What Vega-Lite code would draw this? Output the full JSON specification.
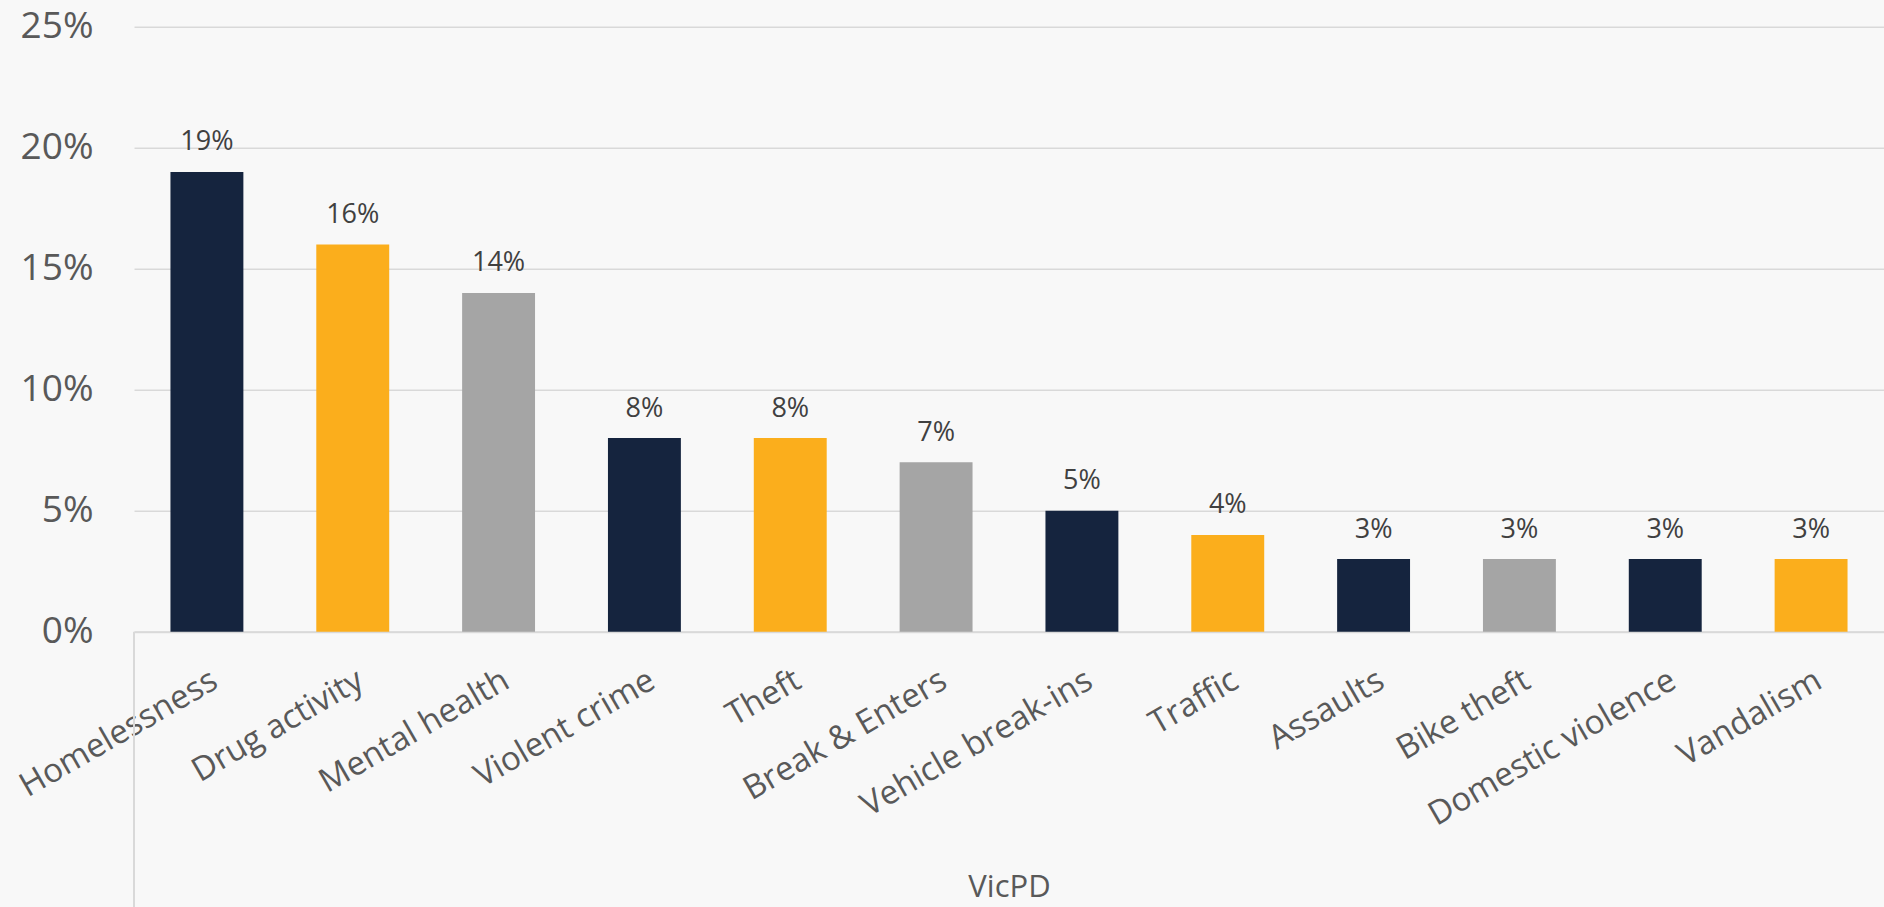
{
  "$schema": "https://vega.github.io/schema/vega-lite/v6.json",
  "autosize": {"type": "none"},
  "width": 1750,
  "height": 605,
  "padding": {"left": 134, "top": 26.7, "right": 0, "bottom": 275.3},
  "background": "#f8f8f8",
  "config": {
    "view": {"stroke": null},
    "font": "Open Sans"
  },
  "data": {
    "values": [
      {"category": "Homelessness", "value": 0.19},
      {"category": "Drug activity", "value": 0.16},
      {"category": "Mental health", "value": 0.14},
      {"category": "Violent crime", "value": 0.08},
      {"category": "Theft", "value": 0.08},
      {"category": "Break & Enters", "value": 0.07},
      {"category": "Vehicle break-ins", "value": 0.05},
      {"category": "Traffic", "value": 0.04},
      {"category": "Assaults", "value": 0.03},
      {"category": "Bike theft", "value": 0.03},
      {"category": "Domestic violence", "value": 0.03},
      {"category": "Vandalism", "value": 0.03}
    ]
  },
  "layer": [
    {
      "layer": [
        {
          "mark": {"type": "bar"},
          "encoding": {
            "x": {
              "field": "category",
              "type": "nominal",
              "sort": null,
              "scale": {"paddingInner": 0.5, "paddingOuter": 0.25},
              "axis": {
                "title": "VicPD",
                "titleFontSize": 31,
                "titleFontWeight": "normal",
                "titleColor": "#595959",
                "titleY": 265,
                "titleBaseline": "alphabetic",
                "domain": true,
                "domainColor": "#d9d9d9",
                "domainWidth": 2,
                "ticks": false,
                "labelAngle": -30,
                "labelAlign": "right",
                "labelBaseline": "top",
                "labelFontSize": 33,
                "labelColor": "#595959",
                "labelPadding": 32,
                "labelLimit": 0,
                "labelOverlap": false
              }
            },
            "y": {
              "field": "value",
              "type": "quantitative",
              "scale": {"domain": [0, 0.25], "nice": false},
              "axis": {
                "title": null,
                "values": [0, 0.05, 0.1, 0.15, 0.2, 0.25],
                "format": ".0%",
                "domain": false,
                "ticks": false,
                "grid": true,
                "gridColor": "#d9d9d9",
                "gridWidth": 1.5,
                "labelFontSize": 37,
                "labelColor": "#595959",
                "labelPadding": 41
              }
            },
            "color": {
              "field": "category",
              "type": "nominal",
              "legend": null,
              "scale": {
                "domain": ["Homelessness", "Drug activity", "Mental health", "Violent crime", "Theft", "Break & Enters", "Vehicle break-ins", "Traffic", "Assaults", "Bike theft", "Domestic violence", "Vandalism"],
                "range": ["#15243e", "#fbae1c", "#a5a5a5", "#15243e", "#fbae1c", "#a5a5a5", "#15243e", "#fbae1c", "#15243e", "#a5a5a5", "#15243e", "#fbae1c"]
              }
            }
          }
        },
        {
          "mark": {"type": "text", "dy": -21.6, "baseline": "alphabetic", "fontSize": 27, "color": "#404040"},
          "encoding": {
            "x": {"field": "category", "type": "nominal", "sort": null},
            "y": {"field": "value", "type": "quantitative"},
            "text": {"field": "value", "type": "quantitative", "format": ".0%"}
          }
        }
      ]
    },
    {
      "data": {"values": [{"start": 0, "low": 0, "bottom": -0.114}]},
      "mark": {"type": "rule", "color": "#d9d9d9", "strokeWidth": 2},
      "encoding": {
        "x": {"field": "start", "type": "quantitative", "scale": {"domain": [0, 1]}, "axis": null},
        "y": {"field": "low", "type": "quantitative"},
        "y2": {"field": "bottom"}
      }
    }
  ],
  "resolve": {"scale": {"x": "independent"}, "axis": {"x": "independent"}}
}
